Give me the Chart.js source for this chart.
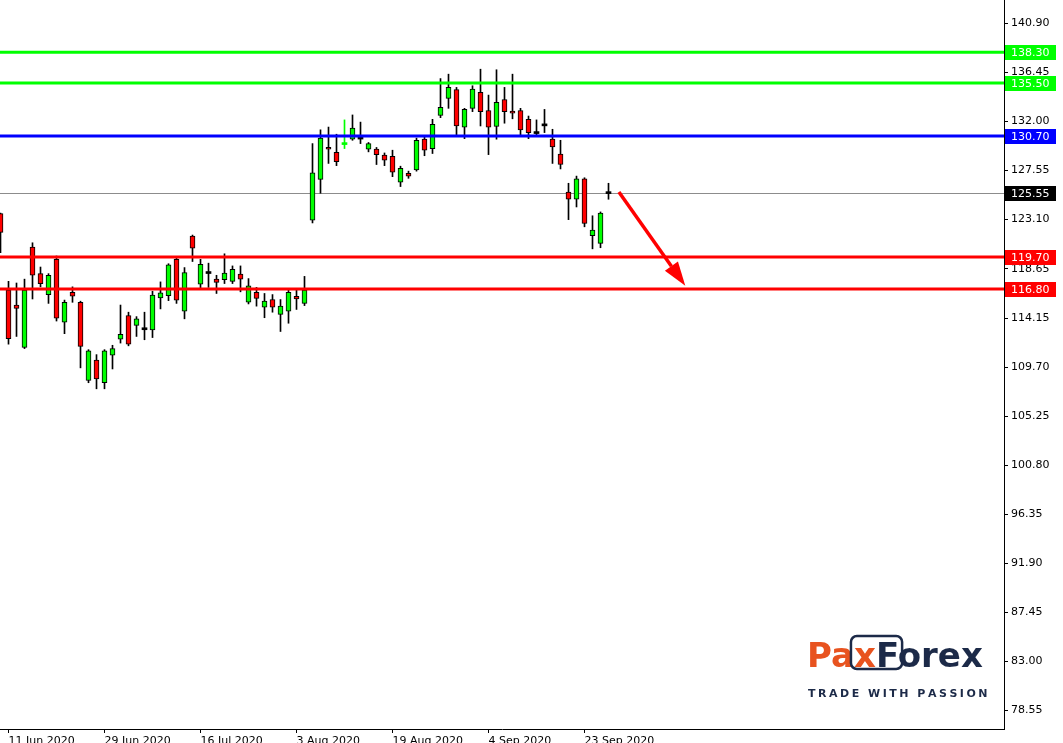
<!DOCTYPE html>
<html>
<head>
<meta charset="utf-8">
<title>Price chart</title>
<script src="https://cdn.jsdelivr.net/npm/chart.js@4.4.1/dist/chart.umd.min.js"></script>
<style>
  html, body { margin: 0; padding: 0; background: #fff; overflow: hidden; }
  #wrap { width: 1063px; height: 743px; overflow: hidden; position: relative; }
  canvas { display: block; }
</style>
</head>
<body>
<div id="wrap"><canvas id="priceChart" width="1063" height="761"></canvas></div>
<script>
// ========== DATA ==========
const opens  = [123.65, 116.7, 115.35, 111.5, 120.6, 118.2, 116.3, 119.5, 113.8, 116.5,
                115.6, 108.5, 110.35, 108.3, 110.8, 112.25, 114.4, 113.5, 113.2, 113.1,
                116.0, 116.2, 119.5, 114.8, 121.6, 117.25, 118.3, 117.7, 117.65, 117.5,
                118.15, 115.6, 116.5, 115.15, 115.85, 114.5, 114.8, 116.15, 115.5, 123.05,
                126.75, 129.65, 129.2, 130.0, 130.4, 130.5, 129.5, 129.5, 128.95, 128.85,
                126.5, 127.3, 127.6, 130.4, 129.55, 132.55, 134.1, 134.9, 131.5, 133.2,
                134.65, 133.0, 131.55, 134.0, 132.95, 133.0, 132.2, 131.0, 131.7, 130.4,
                129.05, 125.6, 124.95, 126.8, 121.65, 120.95, 125.55];
const highs  = [123.7, 117.5, 117.35, 117.7, 121.0, 118.8, 118.2, 119.8, 115.8, 117.0,
                115.7, 111.3, 110.85, 111.3, 111.7, 115.35, 114.7, 114.3, 114.7, 116.6,
                117.45, 119.1, 119.7, 118.75, 121.7, 119.5, 119.15, 118.05, 120.0, 118.9,
                118.9, 117.75, 116.95, 116.4, 116.3, 115.85, 116.7, 116.7, 117.95, 130.0,
                131.25, 131.5, 130.85, 132.15, 132.6, 131.95, 130.1, 129.65, 129.15, 129.4,
                127.95, 127.5, 130.5, 130.6, 132.2, 135.9, 136.3, 135.1, 133.2, 135.25,
                136.75, 134.4, 136.7, 135.1, 136.3, 133.2, 132.5, 132.15, 133.1, 131.3,
                130.3, 126.4, 127.05, 126.9, 123.45, 123.8, 126.4];
const lows   = [120.1, 111.8, 112.5, 111.4, 115.9, 117.0, 115.5, 113.9, 112.75, 115.6,
                109.65, 108.3, 107.75, 107.75, 109.55, 111.9, 111.65, 112.5, 112.2, 112.4,
                115.0, 115.75, 115.5, 114.1, 119.3, 116.9, 116.95, 116.4, 117.3, 117.3,
                116.55, 115.45, 115.25, 114.2, 114.7, 112.95, 113.7, 114.95, 115.3, 122.8,
                125.5, 128.2, 128.0, 129.55, 130.3, 130.0, 129.25, 128.1, 128.0, 127.0,
                126.1, 126.85, 127.5, 128.9, 129.1, 132.35, 133.2, 130.75, 130.45, 132.9,
                131.6, 129.0, 130.4, 131.85, 132.25, 130.75, 130.45, 130.7, 131.0, 128.2,
                127.7, 123.1, 124.25, 122.45, 120.45, 120.55, 124.95];
const closes = [121.95, 112.3, 115.05, 116.7, 118.05, 117.3, 118.05, 114.15, 115.6, 116.15,
                111.6, 111.2, 108.65, 111.2, 111.4, 112.7, 111.8, 114.1, 113.2, 116.25,
                116.45, 119.0, 115.8, 118.3, 120.5, 119.05, 118.3, 117.4, 118.25, 118.6,
                117.7, 117.1, 115.95, 115.7, 115.15, 115.25, 116.5, 115.9, 116.7, 127.35,
                130.5, 129.5, 128.35, 130.01, 131.4, 130.5, 130.0, 129.0, 128.5, 127.4,
                127.75, 127.05, 130.3, 129.4, 131.75, 133.3, 135.1, 131.6, 133.1, 134.95,
                132.9, 131.5, 133.75, 132.9, 132.75, 131.25, 131.0, 131.0, 131.7, 129.7,
                128.1, 124.95, 126.8, 122.75, 122.15, 123.7, 125.55];

const xTickIdx    = [1, 13, 25, 37, 49, 61, 73];
const xTickLabels = ["11 Jun 2020", "29 Jun 2020", "16 Jul 2020", "3 Aug 2020",
                     "19 Aug 2020", "4 Sep 2020", "23 Sep 2020"];
const yTicks = [140.90, 136.45, 132.00, 127.55, 123.10, 118.65, 114.15, 109.70,
                105.25, 100.80, 96.35, 91.90, 87.45, 83.00, 78.55];

const levelValues = [138.30, 135.50, 130.70, 119.70, 116.80];
const lastPrice = 125.55;
const arrowFrom = [77.3, 125.6];   // [bar index, price]
const arrowTo   = [85.6, 117.1];

// ========== STYLES ==========
const GREEN = "#00ff00";
const RED = "#ff0000";
const levelColors = ["#00ff00", "#00ff00", "#0000ff", "#ff0000", "#ff0000"];
const ORANGE = "#e8531f";
const NAVY = "#1c2a48";

Chart.defaults.font.family = '"DejaVu Sans"';
Chart.defaults.font.size = 11;
Chart.defaults.color = "#000";

document.addEventListener("DOMContentLoaded", function () {
  const idx = opens.map((_, i) => i);
  const isFlat = i => Math.abs(closes[i] - opens[i]) < 0.02;
  const bodyColor = i => {
    if (isFlat(i)) return closes[i] > opens[i] ? GREEN : "#000";
    return closes[i] > opens[i] ? GREEN : RED;
  };
  const wickColor = i => (isFlat(i) && closes[i] > opens[i]) ? GREEN : "#000";

  const bodyData = idx.map(i => {
    if (isFlat(i)) return { x: i, y: [opens[i] - 0.09, opens[i] + 0.09] };
    return { x: i, y: [Math.min(opens[i], closes[i]), Math.max(opens[i], closes[i])] };
  });
  const wickData = idx.map(i => ({ x: i, y: [lows[i], highs[i]] }));

  // Lineas horizontales, flecha, etiquetas del eje y logo
  const overlay = {
    id: "overlay",
    beforeDatasetsDraw(chart) {
      const { ctx, chartArea, scales } = chart;
      const y = Math.round(scales.y.getPixelForValue(lastPrice)) + 0.5;
      ctx.save();
      ctx.strokeStyle = "#8c8c8c";
      ctx.lineWidth = 1;
      ctx.beginPath();
      ctx.moveTo(chartArea.left, y);
      ctx.lineTo(chartArea.right, y);
      ctx.stroke();
      ctx.restore();
    },
    afterDatasetsDraw(chart) {
      const { ctx, chartArea, scales } = chart;
      ctx.save();
      levelValues.forEach((v, k) => {
        const y = scales.y.getPixelForValue(v);
        ctx.strokeStyle = levelColors[k];
        ctx.lineWidth = 3;
        ctx.beginPath();
        ctx.moveTo(chartArea.left, y);
        ctx.lineTo(chartArea.right, y);
        ctx.stroke();
      });

      // flecha
      const x1 = scales.x.getPixelForValue(arrowFrom[0]);
      const y1 = scales.y.getPixelForValue(arrowFrom[1]);
      const x2 = scales.x.getPixelForValue(arrowTo[0]);
      const y2 = scales.y.getPixelForValue(arrowTo[1]);
      const ang = Math.atan2(y2 - y1, x2 - x1);
      const headLen = 24, headW = 8;
      const bx = x2 - headLen * Math.cos(ang), by = y2 - headLen * Math.sin(ang);
      ctx.strokeStyle = RED;
      ctx.fillStyle = RED;
      ctx.lineWidth = 3.5;
      ctx.beginPath();
      ctx.moveTo(x1, y1);
      ctx.lineTo(bx, by);
      ctx.stroke();
      ctx.beginPath();
      ctx.moveTo(x2, y2);
      ctx.lineTo(bx + headW * Math.sin(ang), by - headW * Math.cos(ang));
      ctx.lineTo(bx - headW * Math.sin(ang), by + headW * Math.cos(ang));
      ctx.closePath();
      ctx.fill();
      ctx.restore();
    },
    afterDraw(chart) {
      const { ctx, chartArea, scales } = chart;
      ctx.save();
      ctx.font = '11px "DejaVu Sans"';
      ctx.textBaseline = "middle";
      ctx.textAlign = "left";
      const boxes = levelValues.map((v, k) => [v, levelColors[k]]).concat([[lastPrice, "#000"]]);
      boxes.forEach(([v, c]) => {
        const y = Math.round(scales.y.getPixelForValue(v));
        ctx.fillStyle = c;
        ctx.fillRect(chartArea.right + 1, y - 7, 51, 15);
        ctx.fillStyle = "#fff";
        ctx.fillText(v.toFixed(2), chartArea.right + 7, y + 1);
      });

      // logo
      ctx.textBaseline = "alphabetic";
      ctx.font = 'bold 34px "DejaVu Sans"';
      let x = 807;
      const base = 667;
      ctx.fillStyle = ORANGE;
      ctx.fillText("Pa", x, base);
      x += ctx.measureText("Pa").width;
      const boxLeft = x - 3;
      ctx.fillText("x", x, base);
      x += ctx.measureText("x").width;
      const boxRight = x + ctx.measureText("F").width + 3;
      ctx.fillStyle = NAVY;
      ctx.fillText("Forex", x, base);
      ctx.strokeStyle = NAVY;
      ctx.lineWidth = 2.5;
      ctx.beginPath();
      ctx.roundRect(boxLeft, 636, boxRight - boxLeft, 33, 6);
      ctx.stroke();

      ctx.font = 'bold 11px "DejaVu Sans"';
      const tag = "TRADE WITH PASSION";
      const natural = ctx.measureText(tag).width;
      const gap = (178 - natural) / (tag.length - 1);
      let tx = 808;
      for (const ch of tag) {
        ctx.fillText(ch, tx, 697);
        tx += ctx.measureText(ch).width + gap;
      }
      ctx.restore();
    }
  };

  new Chart(document.getElementById("priceChart"), {
    type: "bar",
    data: {
      datasets: [{
        label: "Body",
        data: bodyData,
        grouped: false,
        order: 0,
        barThickness: 5,
        backgroundColor: c => bodyColor(c.dataIndex),
        borderColor: "#000",
        borderWidth: c => isFlat(c.dataIndex) ? 0 : 1,
        borderSkipped: false
      }, {
        label: "Wick",
        data: wickData,
        grouped: false,
        order: 1,
        barThickness: 1,
        backgroundColor: c => wickColor(c.dataIndex),
        borderWidth: 0
      }]
    },
    options: {
      responsive: false,
      animation: false,
      devicePixelRatio: 1,
      layout: { padding: 0 },
      plugins: { legend: { display: false }, tooltip: { enabled: false } },
      scales: {
        x: {
          type: "linear",
          min: -0.0625,
          max: 125.4375,
          offset: false,
          grid: { drawOnChartArea: false, offset: false, color: "#000", tickLength: 4 },
          border: { color: "#000" },
          ticks: {
            autoSkip: false, maxRotation: 0, align: "start", padding: 2,
            callback: v => xTickLabels[xTickIdx.indexOf(v)]
          },
          afterBuildTicks: s => { s.ticks = xTickIdx.map(v => ({ value: v })); },
          afterFit: s => { s.height = 32; s.paddingLeft = 0; s.paddingRight = 0; }
        },
        y: {
          position: "right",
          min: 76.88,
          max: 143.03,
          beginAtZero: false,
          grid: { drawOnChartArea: false, color: "#000", tickLength: 4 },
          border: { color: "#000" },
          ticks: { padding: 3, callback: v => v.toFixed(2) },
          afterBuildTicks: s => { s.ticks = yTicks.map(v => ({ value: v })); },
          afterFit: s => { s.width = 59; s.paddingTop = 0; s.paddingBottom = 0; }
        }
      }
    },
    plugins: [overlay]
  });
});
</script>
</body>
</html>
